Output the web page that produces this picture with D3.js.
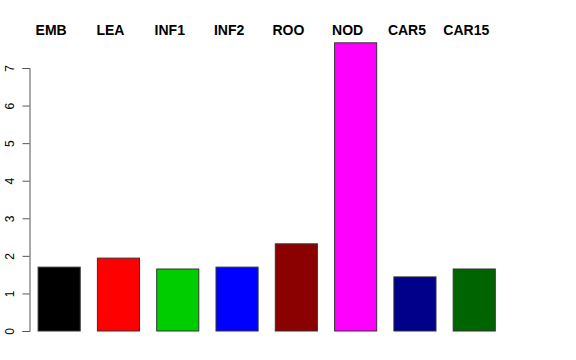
<!DOCTYPE html>
<html>
<head>
<meta charset="utf-8">
<script src="https://cdn.jsdelivr.net/npm/d3@7"></script>
<style>
  body { margin: 0; background: #fff; }
  text { font-family: "Liberation Sans", Arial, Helvetica, sans-serif; }
</style>
</head>
<body>
<div id="graph"></div>
<script>
var categories = ["EMB", "LEA", "INF1", "INF2", "ROO", "NOD", "CAR5", "CAR15"]
var values = [1.70, 1.94, 1.65, 1.70, 2.32, 7.67, 1.44, 1.65]
var colors = ["#000000", "#ff0000", "#00cd00", "#0000ff", "#8b0000", "#ff00ff", "#00008b", "#006400"]
var yTicks = [0, 1, 2, 3, 4, 5, 6, 7]

var w = 576
var h = 360

var svg = d3.select("#graph").append("svg")
    .attr("width", w)
    .attr("height", h)

// y scale: 0 at 331px, 7 at 68px
var y = d3.scaleLinear()
    .domain([0, 7])
    .range([331, 68])

// bar slots, each bar is 42px wide with gaps like R's barplot
var x = d3.scaleBand()
    .domain(categories)
    .range([29.5, 29.5 + 8 * 59.3])
    .paddingInner(0.29)
    .paddingOuter(0.145)

svg.selectAll("rect.bar")
    .data(values)
    .enter().append("rect")
    .attr("class", "bar")
    .attr("x", function (d, i) { return x(categories[i]) })
    .attr("y", function (d) { return y(d) })
    .attr("width", x.bandwidth())
    .attr("height", function (d) { return y(0) - y(d) })
    .attr("fill", function (d, i) { return colors[i] })
    .attr("stroke", "#333")
    .attr("stroke-width", 1)

// category labels across the top, a bit left of each bar
svg.selectAll("text.cat")
    .data(categories)
    .enter().append("text")
    .attr("class", "cat")
    .attr("x", function (d) { return x(d) + x.bandwidth() / 2 - 8 })
    .attr("y", 34.5)
    .attr("text-anchor", "middle")
    .attr("font-size", 14)
    .attr("font-weight", "bold")
    .text(function (d) { return d })

// y axis, R style with rotated labels
var yAxis = d3.axisLeft(y)
    .tickValues(yTicks)
    .tickSize(7)
    .tickPadding(9)
    .tickFormat(d3.format("d"))

var gy = svg.append("g")
    .attr("transform", "translate(29.5,0)")
    .call(yAxis)

gy.select(".domain").attr("stroke", "#555")
gy.selectAll(".tick line").attr("stroke", "#555")
gy.selectAll(".tick text")
    .attr("font-family", "Liberation Sans, Arial, sans-serif")
    .attr("font-size", 12)
    .attr("fill", "#000")
    .attr("text-anchor", "middle")
    .attr("dy", 0)
    .attr("x", 0)
    .attr("transform", "translate(-16,0) rotate(-90)")
</script>
</body>
</html>
